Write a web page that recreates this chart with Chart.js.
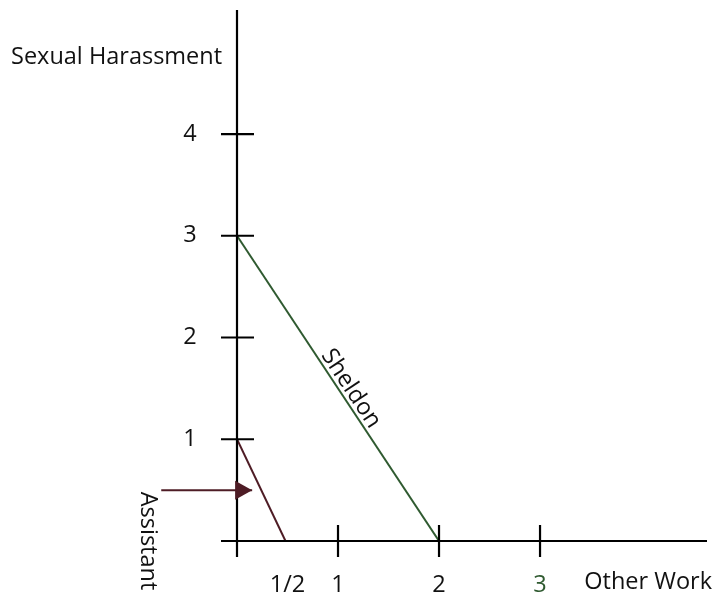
<!DOCTYPE html>
<html>
<head>
<meta charset="utf-8">
<script src="https://cdn.jsdelivr.net/npm/chart.js@4.4.0/dist/chart.umd.min.js"></script>
<style>
  body { margin: 0; background: #fff; }
  #wrap { width: 713px; height: 597px; }
</style>
</head>
<body>
<div id="wrap"><canvas id="myChart" width="713" height="597"></canvas></div>
<script>
// data
const sheldonX = [0, 2]
const sheldonY = [3, 0]
const assistantX = [0, 0.48]
const assistantY = [1, 0]
const arrowX = [-0.75, 0.15]
const arrowY = [0.5, 0.5]
const xTicks = [1, 2, 3]
const yTicks = [1, 2, 3, 4]
const xLabelValues = [0.5, 1, 2, 3]
const xLabelTexts = ["1/2", "1", "2", "3"]
const yLabelTexts = ["1", "2", "3", "4"]

const GREEN = "#2f5a30"
const MAROON = "#4e1c25"
const FONT = '"Open Sans", "Noto Sans", sans-serif'

function toPoints(xs, ys) {
    return xs.map((x, i) => ({ x: x, y: ys[i] }))
}

/*------------------------------------------ axes, crosses and labels ------------------------------------------*/
const axesPlugin = {
    id: "axesPlugin",
    afterDatasetsDraw(chart) {
        let ctx = chart.ctx
        let xs = chart.scales.x
        let ys = chart.scales.y
        let x0 = xs.getPixelForValue(0)
        let y0 = ys.getPixelForValue(0)
        ctx.save()
        ctx.strokeStyle = "#000"
        ctx.lineWidth = 2.2
        ctx.beginPath()
        ctx.moveTo(x0, chart.chartArea.top)
        ctx.lineTo(x0, y0 + 16)
        ctx.moveTo(x0 - 16, y0)
        ctx.lineTo(chart.chartArea.right, y0)
        yTicks.forEach(v => {
            let p = ys.getPixelForValue(v)
            ctx.moveTo(x0 - 16, p)
            ctx.lineTo(x0 + 17, p)
        })
        xTicks.forEach(v => {
            let p = xs.getPixelForValue(v)
            ctx.moveTo(p, y0 - 16)
            ctx.lineTo(p, y0 + 16)
        })
        ctx.stroke()

        // arrow head on the assistant arrow
        let tipX = xs.getPixelForValue(arrowX[1])
        let tipY = ys.getPixelForValue(arrowY[1])
        ctx.fillStyle = MAROON
        ctx.beginPath()
        ctx.moveTo(tipX, tipY)
        ctx.lineTo(tipX - 17, tipY - 9.5)
        ctx.lineTo(tipX - 17, tipY + 9.5)
        ctx.closePath()
        ctx.fill()

        ctx.font = "23.5px " + FONT
        ctx.fillStyle = "#111"
        ctx.textBaseline = "middle"
        ctx.textAlign = "center"
        yTicks.forEach((v, i) => {
            ctx.fillText(yLabelTexts[i], x0 - 47, ys.getPixelForValue(v))
        })
        xLabelValues.forEach((v, i) => {
            ctx.fillStyle = xLabelTexts[i] == "3" ? GREEN : "#111"
            ctx.fillText(xLabelTexts[i], xs.getPixelForValue(v), y0 + 44)
        })
        ctx.fillStyle = "#111"
        ctx.textAlign = "left"
        ctx.fillText("Sexual Harassment", 11, 57)
        ctx.textAlign = "right"
        ctx.fillText("Other Work", 712, 582)

        // rotated labels
        ctx.save()
        ctx.translate(148, 541)
        ctx.rotate(Math.PI / 2)
        ctx.textAlign = "center"
        ctx.fillText("Assistant", 0, 0)
        ctx.restore()

        let sx = xs.getPixelForValue(1.04)
        let sy = ys.getPixelForValue(3 - 1.04 * 1.5)
        let ang = Math.atan2(ys.getPixelForValue(0) - ys.getPixelForValue(3), xs.getPixelForValue(2) - xs.getPixelForValue(0))
        ctx.save()
        ctx.translate(sx, sy)
        ctx.rotate(ang)
        ctx.textAlign = "center"
        ctx.textBaseline = "alphabetic"
        ctx.fillText("Sheldon", 0, -4)
        ctx.restore()
        ctx.restore()
    }
}

/*------------------------------------------------- chart -------------------------------------------------*/
var ctx = document.getElementById("myChart").getContext("2d")
var myChart = new Chart(ctx, {
    type: "scatter",
    data: {
        datasets: [{
            label: "Sheldon",
            data: toPoints(sheldonX, sheldonY),
            showLine: true,
            borderColor: GREEN,
            borderWidth: 2,
            pointRadius: 0,
        }, {
            label: "Assistant",
            data: toPoints(assistantX, assistantY),
            showLine: true,
            borderColor: MAROON,
            borderWidth: 2,
            pointRadius: 0,
        }, {
            label: "Arrow",
            data: toPoints(arrowX, arrowY),
            showLine: true,
            borderColor: MAROON,
            borderWidth: 2,
            pointRadius: 0,
            clip: false,
        }]
    },
    options: {
        responsive: false,
        animation: false,
        layout: {
            padding: { left: 237, right: 6, top: 10, bottom: 56 }
        },
        scales: {
            x: { type: "linear", display: false, min: 0, max: 4.653 },
            y: { type: "linear", display: false, min: 0, max: 5.219 }
        },
        plugins: {
            legend: { display: false },
            tooltip: { enabled: false },
        },
    },
    plugins: [axesPlugin]
});
</script>
</body>
</html>
